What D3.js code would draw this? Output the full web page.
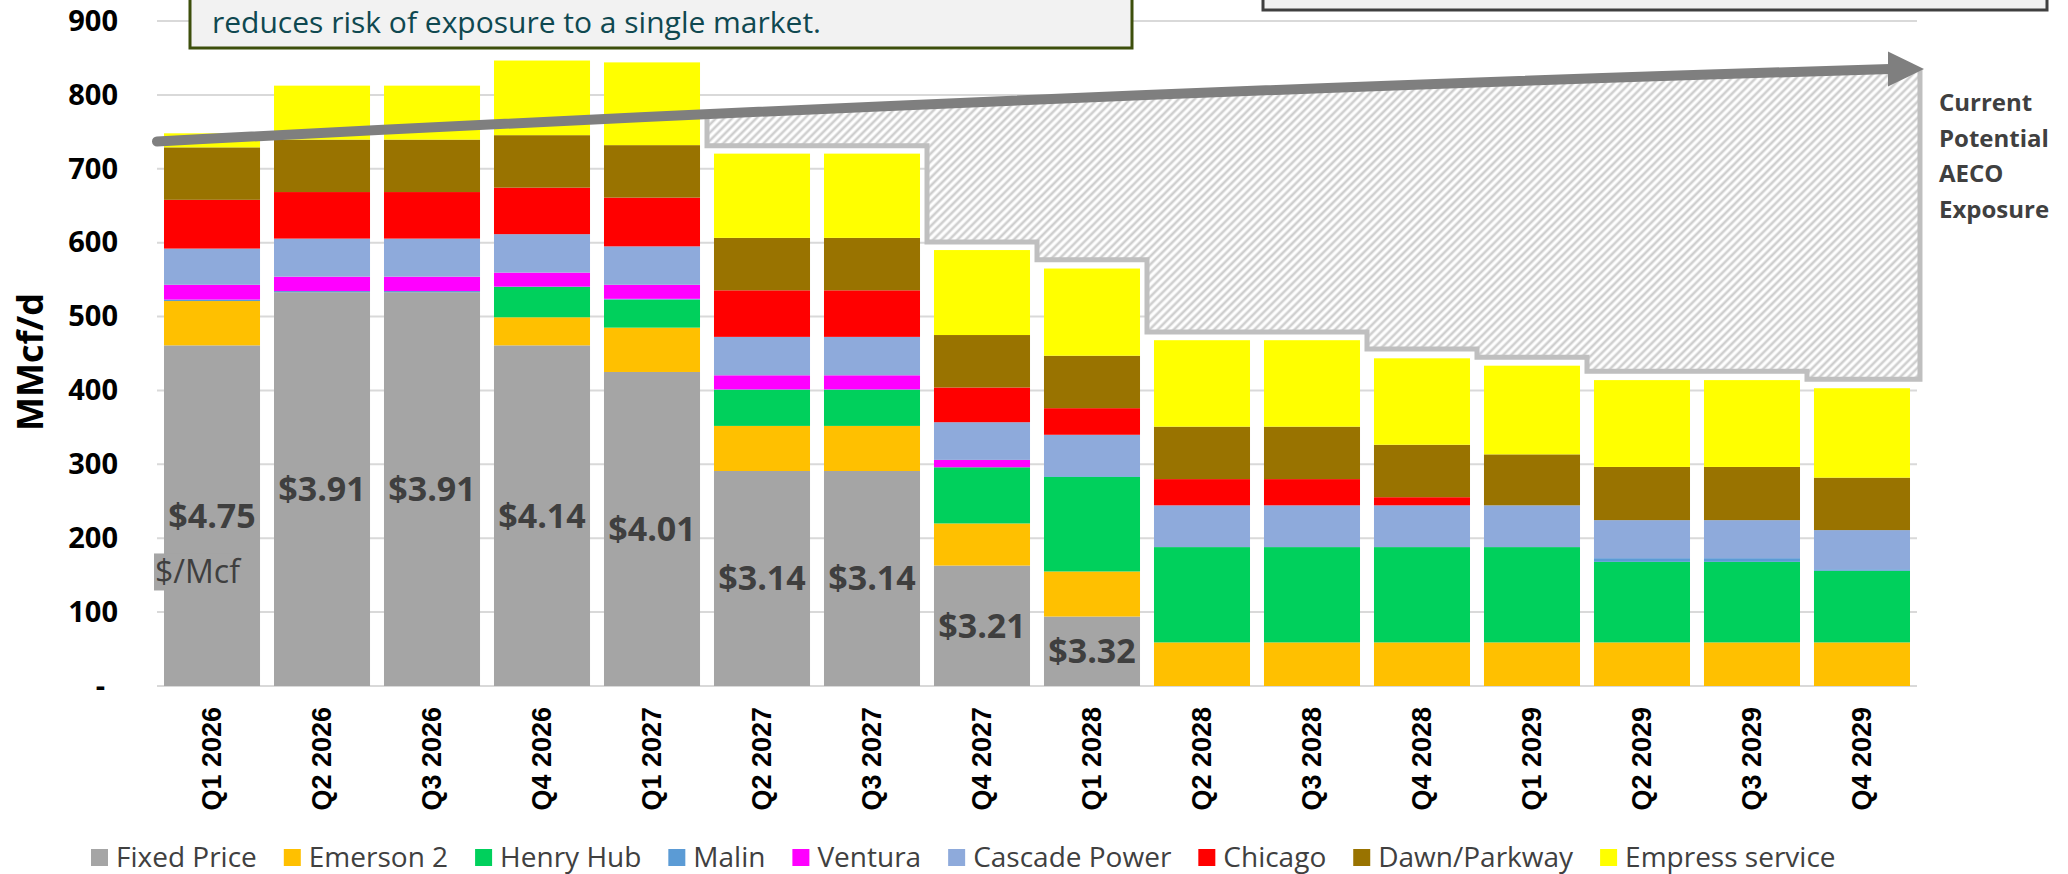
<!DOCTYPE html>
<html>
<head>
<meta charset="utf-8">
<script src="https://cdn.jsdelivr.net/npm/d3@7"></script>
<style>
  body { margin: 0; background: #fff; }
  svg { display: block; }
</style>
</head>
<body>
<script>
const categories = ['Q1 2026','Q2 2026','Q3 2026','Q4 2026','Q1 2027','Q2 2027','Q3 2027','Q4 2027',
                    'Q1 2028','Q2 2028','Q3 2028','Q4 2028','Q1 2029','Q2 2029','Q3 2029','Q4 2029'];

// MMcf/d by market, bottom of the stack first
const fixedPrice   = [461, 533, 533, 461, 425, 291, 291, 163, 94, 0, 0, 0, 0, 0, 0, 0];
const emerson2     = [60, 0, 0, 38, 60, 61, 61, 57, 61, 59, 59, 59, 59, 59, 59, 59];
const henryHub     = [0, 0, 0, 41, 38, 49, 49, 76, 128, 129, 129, 129, 129, 109, 109, 97];
const malin        = [2, 1.5, 1.5, 0.5, 1, 0.5, 0.5, 0, 1, 0, 0, 0, 0, 5, 5, 2];
const ventura      = [20, 19.5, 19.5, 19, 19, 19, 19, 10, 0, 0, 0, 0, 0, 0, 0, 0];
const cascadePower = [49, 51.5, 51.5, 52, 52, 52, 52, 51, 56, 56.5, 56.5, 56.5, 56.5, 51.5, 51.5, 53];
const chicago      = [66, 63, 63, 63, 66, 63, 63, 47, 36, 35.5, 35.5, 11, 0, 0, 0, 0];
const dawnParkway  = [71, 71, 71, 71, 71, 71, 71, 71, 71, 71, 71, 71, 69, 72, 72, 71];
const empress      = [19, 73, 73, 101, 112, 114, 114, 115, 118, 117, 117, 117, 120, 117.5, 117.5, 121];

// fixed price $/Mcf printed on the grey segment
const fixedPriceLabels = ['$4.75','$3.91','$3.91','$4.14','$4.01','$3.14','$3.14','$3.21','$3.32'];

// top of the hatched "current potential AECO exposure" block, Q2 2027 onward
const exposureTop = [731, 731, 601, 577, 479, 479, 456, 445, 426, 426, 415];

// start / bend / end of the trend arrow (MMcf/d)
const arrowLevels = [737, 804, 835];

const yTicks = [0, 100, 200, 300, 400, 500, 600, 700, 800, 900];

const seriesNames  = ['Fixed Price','Emerson 2','Henry Hub','Malin','Ventura','Cascade Power','Chicago','Dawn/Parkway','Empress service'];
const seriesValues = [fixedPrice, emerson2, henryHub, malin, ventura, cascadePower, chicago, dawnParkway, empress];
const seriesColors = ['#a5a5a5','#ffc000','#00d05c','#5b9bd5','#ff00ff','#8eaadb','#ff0000','#997300','#ffff00'];

const W = 2068, H = 874;
const calibri = "'Open Sans', 'Noto Sans', sans-serif";
const arial = "'Liberation Sans', Arial, sans-serif";

const svg = d3.select('body').append('svg')
  .attr('width', W)
  .attr('height', H)
  .attr('viewBox', `0 0 ${W} ${H}`);

const xScale = d3.scaleBand()
  .domain(categories)
  .range([157, 1917])
  .paddingInner(0.127)
  .paddingOuter(0.0636);

const yScale = d3.scaleLinear()
  .domain([0, 900])
  .range([686, 21]);

// hatch pattern
const defs = svg.append('defs');
const pat = defs.append('pattern')
  .attr('id', 'hatch')
  .attr('patternUnits', 'userSpaceOnUse')
  .attr('width', 5.7).attr('height', 5.7)
  .attr('patternTransform', 'rotate(45)');
pat.append('rect').attr('width', 5.7).attr('height', 5.7).attr('fill', '#fff');
pat.append('line').attr('x1', 2.85).attr('x2', 2.85).attr('y1', 0).attr('y2', 5.7)
  .attr('stroke', '#cfcfcf').attr('stroke-width', 2.6);

const plotL = xScale.range()[0], plotR = xScale.range()[1];
const arrowStart = [plotL, yScale(arrowLevels[0])];
const arrowBend  = [1100, yScale(arrowLevels[1])];
const arrowEnd   = [1890, yScale(arrowLevels[2])];
const arrowTipX  = 1924;

defs.append('clipPath').attr('id', 'under-arrow')
  .append('path')
  .attr('d', `M${arrowStart} Q${arrowBend} ${arrowEnd} L${arrowTipX + 10},${arrowEnd[1]} L${arrowTipX + 10},${H} L${plotL - 10},${H} Z`);

// gridlines
svg.append('g')
  .selectAll('line')
  .data(yTicks)
  .join('line')
  .attr('x1', plotL)
  .attr('x2', plotR)
  .attr('y1', d => yScale(d))
  .attr('y2', d => yScale(d))
  .attr('stroke', '#d9d9d9')
  .attr('stroke-width', 2);

// y axis labels
const yAxis = d3.axisLeft(yScale)
  .tickValues(yTicks)
  .tickSize(0)
  .tickPadding(39)
  .tickFormat(d => d === 0 ? '-' : d);

const yg = svg.append('g')
  .attr('transform', `translate(${plotL}, 0)`)
  .call(yAxis);
yg.select('.domain').remove();
yg.selectAll('text')
  .style('font-family', calibri)
  .style('font-weight', 700)
  .style('font-size', '29px')
  .attr('fill', '#000')
  .attr('dx', d => d === 0 ? -13 : 0);

svg.append('text')
  .attr('transform', 'translate(30, 362) rotate(-90)')
  .attr('text-anchor', 'middle')
  .attr('dy', '0.35em')
  .style('font-family', calibri)
  .style('font-weight', 700)
  .style('font-size', '36px')
  .attr('fill', '#000')
  .text('MMcf/d');

// x axis labels
const xAxis = d3.axisBottom(xScale).tickSize(0);
const xg = svg.append('g')
  .attr('transform', `translate(0, ${yScale(0)})`)
  .call(xAxis);
xg.select('.domain').remove();
xg.selectAll('text')
  .attr('transform', 'rotate(-90)')
  .attr('text-anchor', 'end')
  .attr('x', -21)
  .attr('y', 0)
  .attr('dy', '0.35em')
  .style('font-family', arial)
  .style('font-weight', 700)
  .style('font-size', '27px')
  .attr('fill', '#000');

// stacked bars
const table = categories.map((cat, i) => {
  const row = { cat };
  seriesNames.forEach((n, k) => { row[n] = seriesValues[k][i]; });
  return row;
});
const stacked = d3.stack().keys(seriesNames)(table);

svg.append('g')
  .selectAll('g')
  .data(stacked)
  .join('g')
  .attr('fill', (d, i) => seriesColors[i])
  .selectAll('rect')
  .data(d => d)
  .join('rect')
  .attr('x', d => xScale(d.data.cat))
  .attr('y', d => yScale(d[1]))
  .attr('width', xScale.bandwidth())
  .attr('height', d => yScale(d[0]) - yScale(d[1]));

// hatched exposure block
const gap = xScale.step() - xScale.bandwidth();
const expCats = categories.slice(categories.length - exposureTop.length);
let outline = [];
expCats.forEach((c, i) => {
  const l = xScale(c) - gap / 2;
  const r = xScale(c) + xScale.bandwidth() + gap / 2 + (i === expCats.length - 1 ? 3 : 0);
  outline.push([l, yScale(exposureTop[i])]);
  outline.push([r, yScale(exposureTop[i])]);
});
const firstX = outline[0][0], lastX = outline[outline.length - 1][0];
const outlinePts = [[firstX, 0], ...outline, [lastX, 0]];

const hatch = svg.append('g').attr('clip-path', 'url(#under-arrow)');
hatch.append('path')
  .attr('d', d3.line()(outlinePts) + 'Z')
  .attr('fill', 'url(#hatch)');
hatch.append('path')
  .attr('d', d3.line()(outlinePts))
  .attr('fill', 'none')
  .attr('stroke', '#bfbfbf')
  .attr('stroke-width', 5);

// price labels in the fixed price segment
svg.append('g')
  .selectAll('text')
  .data(fixedPriceLabels)
  .join('text')
  .attr('x', (d, i) => xScale(categories[i]) + xScale.bandwidth() / 2)
  .attr('y', (d, i) => yScale(fixedPrice[i] / 2))
  .attr('dy', '0.35em')
  .attr('text-anchor', 'middle')
  .style('font-family', calibri)
  .style('font-weight', 700)
  .style('font-size', '34px')
  .attr('fill', '#3f3f3f')
  .text(d => d);

// $/Mcf tag
const tagX = xScale(categories[0]) - 10;
svg.append('rect')
  .attr('x', tagX).attr('y', yScale(155) - 18)
  .attr('width', 96).attr('height', 37)
  .attr('fill', '#a5a5a5');
svg.append('text')
  .attr('x', tagX + 1).attr('y', yScale(155))
  .attr('dy', '0.35em')
  .style('font-family', calibri)
  .style('font-size', '32px')
  .attr('fill', '#3f3f3f')
  .text('$/Mcf');

// trend arrow
svg.append('path')
  .attr('d', `M${arrowStart} Q${arrowBend} ${arrowEnd}`)
  .attr('fill', 'none')
  .attr('stroke', '#7f7f7f')
  .attr('stroke-width', 10)
  .attr('stroke-linecap', 'round');
svg.append('path')
  .attr('d', `M${arrowEnd[0] - 2},${arrowEnd[1] - 17.5} L${arrowTipX},${arrowEnd[1]} L${arrowEnd[0] - 2},${arrowEnd[1] + 17.5} Z`)
  .attr('fill', '#7f7f7f');

// side note
svg.append('text')
  .style('font-family', calibri)
  .style('font-weight', 700)
  .style('font-size', '24px')
  .attr('fill', '#404040')
  .selectAll('tspan')
  .data(['Current', 'Potential', 'AECO', 'Exposure'])
  .join('tspan')
  .attr('x', 1939)
  .attr('y', (d, i) => 111 + i * 35.5)
  .text(d => d);

// callout boxes cut by the top edge
svg.append('rect')
  .attr('x', 190).attr('y', -30)
  .attr('width', 942).attr('height', 78)
  .attr('fill', '#f2f2f2')
  .attr('stroke', '#3d4f0c')
  .attr('stroke-width', 3);
svg.append('text')
  .attr('x', 212).attr('y', 33)
  .style('font-family', calibri)
  .style('font-size', '30px')
  .attr('fill', '#0f4850')
  .text('reduces risk of exposure to a single market.');

svg.append('rect')
  .attr('x', 1263).attr('y', -30)
  .attr('width', 784).attr('height', 40)
  .attr('fill', '#f2f2f2')
  .attr('stroke', '#404040')
  .attr('stroke-width', 3);

// legend
const legend = svg.append('g').attr('transform', 'translate(91, 867)');
let lx = 0;
seriesNames.forEach((name, i) => {
  const item = legend.append('g').attr('transform', `translate(${lx}, 0)`);
  item.append('rect')
    .attr('x', 0).attr('y', -18)
    .attr('width', 17).attr('height', 17)
    .attr('fill', seriesColors[i]);
  const t = item.append('text')
    .attr('x', 25)
    .attr('y', 0)
    .style('font-family', calibri)
    .style('font-size', '28px')
    .attr('fill', '#404040')
    .text(name);
  lx += 25 + t.node().getComputedTextLength() + 27;
});
</script>
</body>
</html>
